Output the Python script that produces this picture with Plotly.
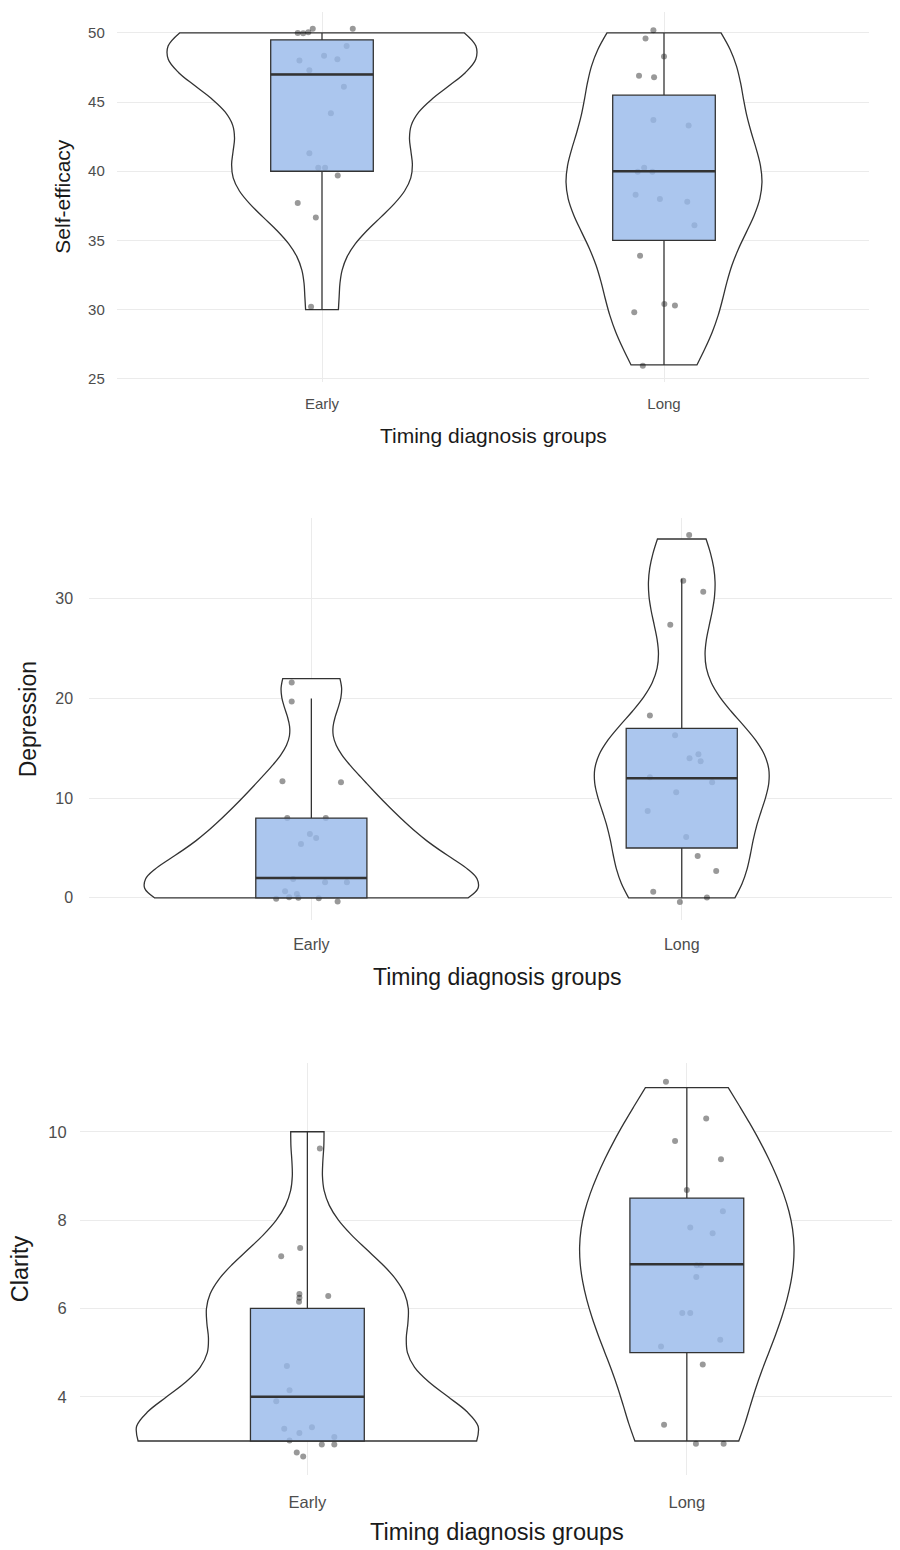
import numpy as np
import plotly.graph_objects as go

# ---------------- data ----------------
groups = ["Early", "Long"]
x_title = "Timing diagnosis groups"

# Jittered points: horizontal offset from the category centre, and plotted y
se_early_dx = [-0.071, -0.055, -0.040, -0.027, 0.090, 0.072, 0.006, -0.066, 0.045, -0.037,
               0.064, 0.026, -0.037, -0.011, 0.009, 0.046, -0.071, -0.018, -0.032]
se_early_y = [50.0, 49.98, 50.05, 50.3, 50.3, 49.06, 48.34, 48.0, 48.1, 47.3,
              46.1, 44.2, 41.3, 40.25, 40.25, 39.7, 37.7, 36.65, 30.2]
se_long_dx = [-0.031, -0.054, 0.0, -0.073, -0.029, -0.031, 0.072, -0.058, -0.077, -0.034,
              -0.083, -0.012, 0.068, 0.089, -0.070, 0.001, 0.032, -0.087, -0.062]
se_long_y = [50.2, 49.6, 48.3, 46.9, 46.8, 43.7, 43.3, 40.25, 39.96, 39.96,
             38.3, 38.0, 37.8, 36.1, 33.9, 30.4, 30.3, 29.8, 25.94]

dep_early_dx = [-0.053, -0.053, -0.078, 0.080, -0.065, 0.039, -0.004, 0.013, -0.028, -0.049,
                0.037, 0.096, -0.071, -0.039, -0.095, -0.035, 0.071, -0.060, 0.020]
dep_early_y = [21.6, 19.7, 11.7, 11.6, 8.0, 8.0, 6.4, 6.0, 5.4, 1.9,
               1.57, 1.57, 0.67, 0.38, -0.1, 0.0, -0.36, 0.05, -0.05]
dep_long_dx = [0.020, 0.004, 0.058, -0.031, -0.086, -0.018, 0.045, 0.021, 0.051, -0.086,
               0.082, -0.015, -0.092, 0.012, 0.043, 0.093, -0.077, 0.068, -0.005]
dep_long_y = [36.4, 31.8, 30.7, 27.4, 18.3, 16.3, 14.4, 14.0, 13.7, 12.1,
              11.6, 10.6, 8.7, 6.1, 4.2, 2.7, 0.6, 0.04, -0.42]

cla_early_dx = [0.033, -0.019, -0.069, -0.021, -0.021, -0.022, 0.055, -0.054, -0.047, -0.082,
                -0.061, 0.012, -0.021, -0.047, 0.071, 0.038, 0.071, -0.028, -0.011]
cla_early_y = [9.62, 7.37, 7.18, 6.33, 6.24, 6.15, 6.28, 4.7, 4.15, 3.9,
               3.28, 3.31, 3.18, 3.01, 3.09, 2.92, 2.92, 2.74, 2.65]
cla_long_dx = [-0.055, 0.051, -0.031, 0.090, 0.0, 0.095, 0.009, 0.068, 0.026, 0.037,
               0.025, -0.012, 0.009, 0.088, -0.068, 0.042, -0.060, 0.024, 0.097]
cla_long_y = [11.13, 10.3, 9.79, 9.38, 8.68, 8.2, 7.83, 7.7, 6.98, 6.98,
              6.71, 5.9, 5.9, 5.29, 5.14, 4.73, 3.37, 2.94, 2.94]

se_ticks = [25, 30, 35, 40, 45, 50]
dep_ticks = [0, 10, 20, 30]
cla_ticks = [4, 6, 8, 10]

# ---------------- style ----------------
W, H = 900, 1550
OFF = 8  # page body margin that shifts the figure on screen
FONT = "Liberation Sans, Arial, sans-serif"
DARK = "#333333"
GRID = "#EBEBEB"
TICK = "#4D4D4D"
BOX_FILL = "rgba(150,184,234,0.8)"
PT_COL = "rgba(0,0,0,0.4)"


def bw_nrd0(x):
    x = np.asarray(x, float)
    hi = np.std(x, ddof=1)
    q75, q25 = np.percentile(x, [75, 25])
    lo = min(hi, (q75 - q25) / 1.34)
    if not lo:
        lo = hi or abs(x[0]) or 1.0
    return 0.9 * lo * len(x) ** -0.2


panels = [
    dict(title="Self-efficacy", data=[(se_early_dx, se_early_y), (se_long_dx, se_long_y)],
         ticks=se_ticks, yrange=[24.76, 51.49], left=116.8, right=869.2, top=12.3, bottom=383.3,
         vw=[0.9, 0.573], tfs=15, afs=21, ytx=62.5, xty=437, stand_y=11, stand_x=11),
    dict(title="Depression", data=[(dep_early_dx, dep_early_y), (dep_long_dx, dep_long_y)],
         ticks=dep_ticks, yrange=[-2.26, 38.07], left=89.1, right=904.0, top=520.0, bottom=923.3,
         vw=[0.9, 0.47], tfs=16, afs=23, ytx=28, xty=980, stand_y=15, stand_x=13),
    dict(title="Clarity", data=[(cla_early_dx, cla_early_y), (cla_long_dx, cla_long_y)],
         ticks=cla_ticks, yrange=[2.225, 11.55], left=79.7, right=914.5, top=1066.7, bottom=1480.0,
         vw=[0.9, 0.565], tfs=16.5, afs=23.5, ytx=20, xty=1537, stand_y=12, stand_x=15),
]

fig = go.Figure()
layout = {}
annotations = []

for i, p in enumerate(panels):
    suf = "" if i == 0 else str(i + 1)
    bx, by = "x" + suf, "y" + suf
    ox, oy = "x" + str(i + 4), "y" + str(i + 4)

    left, right = p["left"] - OFF, p["right"] - OFF
    top, bottom = p["top"] - OFF, p["bottom"] - OFF
    spacing = (right - left) / 2.2
    right_px = min(right, W)
    xr = [0.4, 0.4 + (right_px - left) / spacing]
    xdom = [left / W, right_px / W]
    ydom = [1 - bottom / H, 1 - top / H]

    for g, (dx, yv) in enumerate(p["data"]):
        pos = g + 1
        yv = np.asarray(yv, float)
        vals = np.round(yv)
        # violin
        fig.add_trace(go.Violin(
            x0=pos, y=vals, xaxis=bx, yaxis=by, width=p["vw"][g], spanmode="hard",
            bandwidth=bw_nrd0(vals), points=False, fillcolor="white",
            line=dict(color=DARK, width=1.3), box_visible=False, meanline_visible=False,
            scalemode="width", hoverinfo="skip", showlegend=False))
        # jittered points
        fig.add_trace(go.Scatter(
            x=pos + np.asarray(dx), y=yv, mode="markers", xaxis=bx, yaxis=by,
            marker=dict(size=6, color=PT_COL, line=dict(width=0)),
            hoverinfo="skip", showlegend=False))
        # boxplot (on overlay axes so it sits above the points)
        q1, med, q3 = np.percentile(vals, [25, 50, 75])
        iqr = q3 - q1
        lo = vals[vals >= q1 - 1.5 * iqr].min()
        hi = vals[vals <= q3 + 1.5 * iqr].max()
        fig.add_trace(go.Box(
            x=[pos], q1=[q1], median=[med], q3=[q3], lowerfence=[lo], upperfence=[hi],
            width=0.3, whiskerwidth=0, fillcolor=BOX_FILL, line=dict(color=DARK, width=1.3),
            boxpoints=False, xaxis=ox, yaxis=oy, hoverinfo="skip", showlegend=False))
        fig.add_trace(go.Box(
            x=[pos], q1=[med], median=[med], q3=[med], lowerfence=[med], upperfence=[med],
            width=0.3, whiskerwidth=0, fillcolor="rgba(0,0,0,0)", line=dict(color=DARK, width=2.5),
            boxpoints=False, xaxis=ox, yaxis=oy, hoverinfo="skip", showlegend=False))

    layout["xaxis" + suf] = dict(
        domain=xdom, range=xr, anchor=by, tickmode="array", tickvals=[1, 2], ticktext=groups,
        showgrid=True, gridcolor=GRID, gridwidth=1, zeroline=False, showline=False, ticks="",
        tickfont=dict(family=FONT, size=p["tfs"], color=TICK), ticklabelstandoff=p["stand_x"],
        fixedrange=True)
    layout["yaxis" + suf] = dict(
        domain=ydom, range=p["yrange"], anchor=bx, tickmode="array", tickvals=p["ticks"],
        showgrid=True, gridcolor=GRID, gridwidth=1, zeroline=False, showline=False, ticks="",
        tickfont=dict(family=FONT, size=p["tfs"], color=TICK), ticklabelstandoff=p["stand_y"],
        fixedrange=True)
    layout["xaxis" + str(i + 4)] = dict(
        domain=xdom, range=xr, overlaying=bx, anchor=oy, visible=False, showgrid=False,
        zeroline=False, fixedrange=True)
    layout["yaxis" + str(i + 4)] = dict(
        domain=ydom, range=p["yrange"], overlaying=by, anchor=ox, visible=False, showgrid=False,
        zeroline=False, fixedrange=True)

    annotations.append(dict(
        text=x_title, xref="paper", yref="paper",
        x=((left + right) / 2) / W, y=1 - (p["xty"] - OFF) / H,
        xanchor="center", yanchor="middle", showarrow=False,
        font=dict(family=FONT, size=p["afs"], color="#1a1a1a")))
    annotations.append(dict(
        text=p["title"], xref="paper", yref="paper",
        x=(p["ytx"] - OFF) / W, y=1 - ((top + bottom) / 2) / H, textangle=-90,
        xanchor="center", yanchor="middle", showarrow=False,
        font=dict(family=FONT, size=p["afs"], color="#1a1a1a")))

fig.update_layout(
    width=W, height=H, margin=dict(l=0, r=0, t=0, b=0),
    paper_bgcolor="white", plot_bgcolor="white",
    violinmode="overlay", boxmode="overlay", showlegend=False,
    annotations=annotations, **layout)

fig.write_html("out.html")
